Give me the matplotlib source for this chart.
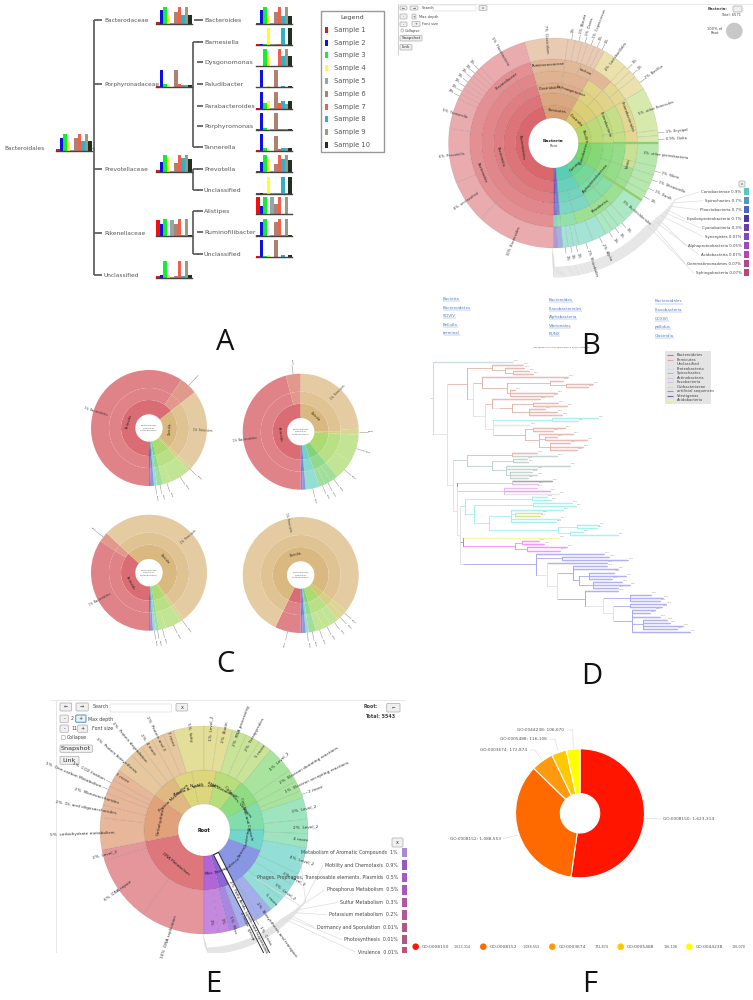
#!/usr/bin/python3
"""Six panel figure: taxonomy bars, krona charts, phylogenetic tree, GO donut."""

import numpy as np
import matplotlib
matplotlib.use("Agg")
import matplotlib.pyplot as plt
from matplotlib.colors import to_rgb
from matplotlib.patches import Rectangle, FancyBboxPatch, Circle

W, H = 753, 1000

#
# Data, panel A
#
samples = ["Sample %d" % i for i in range(1, 11)]
bact_root = [.1, .75, 1, .6, .05, .75, 1, .6, 1, .6]
fam_names = ["Bacterodaceae", "Porphyronadaceae", "Prevotellaceae", "Rikenellaceae", "Unclassified"]
fam_bars = [[.08, .8, 1, .5, .05, .7, 1, .5, 1, .5],
            [.03, 1, .15, .1, .02, 1, .15, .1, .1, .1],
            [.1, .6, 1, .8, .05, .5, 1, .8, 1, .75],
            [.9, .65, 1, .05, .9, .65, 1, .05, 1, .05],
            [.1, .15, 1, .15, .05, .1, 1, .1, 1, .15]]
gen_names = ["Bacteroides", "Barnesiella", "Dysgonomonas", "Paludibacter", "Parabacteroides",
             "Porphyromonas", "Tannerella", "Prevotella", "Unclassified", "Alistipes",
             "Ruminofilibacter", "Unclassified"]
gen_bars = [[.08, .8, 1, .5, .05, .7, 1, .5, 1, .5],
            [.02, .02, .02, 1, .02, .02, .02, 1, .02, 1],
            [.02, .02, 1, .6, .02, .02, 1, .6, 1, .6],
            [.03, 1, .03, .1, .02, 1, .02, .1, .02, .1],
            [.03, 1, .35, .45, .02, 1, .35, .45, .3, .45],
            [.03, 1, .1, .05, .02, 1, .03, .05, .03, .05],
            [.08, 1, .2, .1, .02, .9, .1, .15, .15, .15],
            [.1, .6, 1, .8, .05, .5, 1, .8, 1, .75],
            [.02, .02, .02, 1, .02, .02, .02, 1, .02, 1],
            [1, .5, 1, .02, 1, .6, 1, .02, 1, .02],
            [.03, .8, 1, .05, .03, .8, 1, .05, 1, .05],
            [.03, 1, .05, .1, .02, 1, .02, .1, .02, .1]]
sample_colors = ["#f01010", "#1010e0", "#10f030", "#ffff20", "#8fa8a8",
                 "#b08070", "#f0604a", "#30b0c8", "#a09880", "#203020"]

#
# Data, krona panels (angles clockwise, starting at six o'clock)
#
b_levels = [[164, 45, 30, 31, 33, 27, 25, 3, 2],
            [150, 14, 45, 30, 31, 33, 27, 25, 3, 2],
            [150, 14, 24, 21, 14, 16, 22, 9, 18, 15, 15, 12, 14, 11, 3, 2],
            [138, 12, 14, 24, 21, 14, 16, 22, 9, 18, 15, 15, 12, 14, 11, 3, 2],
            [136, 14, 14, 24, 11, 10, 14, 8, 8, 22, 9, 13, 5, 10, 5, 14, 13, 14, 11, 3, 2],
            [44, 24, 30, 17, 3, 3, 3, 3, 3, 3, 3, 28, 24, 4, 4, 3, 4, 3, 3, 14, 4, 4, 8,
             24, 3, 4, 13, 5, 5, 5, 5, 14, 5, 4, 4, 8, 8, 3, 3, 3, 3, 2]]
b_keys = ["rnylgmtbp", "rrnylgmtbp", "rrnnyyllggmmttbp", "rrrnnyyllggmmttbp",
          "rrrnnnnyyyyllgggggmmttbp",
          "r" * 12 + "n" * 7 + "y" * 4 + "l" * 3 + "g" * 5 + "m" * 4 + "t" * 5 + "bp"]
b_outer_labels = ["10%  Bacteroides", "8%  unclassified", "6%  Prevotella", "5%  Tannerella",
                  "2%", "1%", "1%", "1%", "1%", "1%", "1%", "5%  Flavobacteria",
                  "7%  Clostridium", "1%", "1%  Blautia", "1%  Dorea", "1%  Coprococcus", "1%", "1%",
                  "4%  Lactobacillales", "1%", "1%", "2%  Bacillus", "5%  other Firmicutes", "1%  Erysipel",
                  "0.9%  Delta", "3%  other proteobacteria", "1%  Vibrio", "1%  Shewanella", "1%  Xanth", "1%",
                  "3%  Burkholderiales", "1%", "1%", "1%", "2%  Alpha", "2%  Rhizobiales", "1%", "1%", "1%", "", ""]
b_inner_labels = ["Bacteroidetes", "Firmicutes", "Clostridia", "Bacilli", "Proteobacteria", "Gamma", "", "", ""]
b_mid_labels = ["Bacteroidia", "", "Clostridiales", "Lachnospiraceae", "", "", "Enterobacteria", "", "", "",
                "Alphaproteobacteria", "", "", "", "", ""]
b_ring_labels = ["Bacteroides", "Prevotellaceae", "", "Ruminococcaceae", "", "Lachno", "", "", "",
                 "Enterobacteriales", "", "", "Vibrio", "", "", "", "Rhizobiales", "", "",
                 "", "", "", "", ""]
b_side = ["Coriobacteriae 0.9%", "Spirochaetes 0.7%", "Planctobacteria 0.7%", "Epsilonproteobacteria 0.7%",
          "Cyanobacteria 0.3%", "Synergistes 0.07%", "Alphaproteobacteria 0.05%", "Acidobacteria 0.07%",
          "Gemmatimonadetes 0.07%", "Sphingobacteria 0.07%"]
b_side_colors = ["#58c8c0", "#5098c8", "#4868c0", "#4838a8", "#6a3cb0",
                 "#8048c0", "#a048c0", "#b048b0", "#b04890", "#b84878"]
b_links = [["Bacteria", "Bacteroidetes", "SCIVIV", "Bellulla", "terminal"],
           ["Bacteroides", "Flavobacteriales", "Alphabacteria", "Vibrionales", "RUNX"],
           ["Bacteroidales", "Flavobacteria", "GCXIVI", "pallidus", "Clostridia"]]

c_tl_levels = [[232, 81, 4, 29, 6, 3, 3, 2],
               [214, 18, 81, 4, 29, 6, 3, 3, 2],
               [214, 18, 81, 4, 21, 8, 6, 3, 3, 2]]
c_tl_keys = ["rnolgtbp", "rsnolgtbp", "rsnollgtbp"]
c_tr_levels = [[180, 90, 3, 48, 20, 14, 3, 2],
               [165, 15, 90, 3, 48, 20, 14, 3, 2],
               [165, 15, 87, 6, 28, 20, 8, 6, 6, 14, 3, 2]]
c_tr_keys = ["rnolgtbp", "rsnolgtbp", "rsnollgggtbp"]
c_bl_levels = [[133, 190, 4, 23, 3, 3, 2, 2],
               [123, 10, 190, 4, 23, 3, 3, 2, 2],
               [123, 10, 190, 4, 16, 7, 3, 3, 2, 2]]
c_bl_keys = ["rnolgtbp", "rsnolgtbp", "rsnollgtbp"]
c_br_levels = [[26, 282, 12, 25, 7, 3, 3, 2],
               [26, 282, 12, 25, 7, 3, 3, 2],
               [26, 282, 6, 6, 9, 8, 8, 7, 3, 3, 2]]
c_br_keys = ["rnolgtbp", "rnolgtbp", "rnoolllgtbp"]
c_names = ["Bacteroidetes", "Firmicutes", "Proteobacteria"]

e_inner = [79, 46, 25, 18, 24, 26, 24, 28, 20, 20, 20, 15, 15]
e_inner_keys = "ronyylgmtbbpv"
e_inner_labels = ["DNA Metabolism", "Carbohydrates", "Protein Metabolism", "Amino A.. acids", "Nucleic...sides",
                  "RNA Metabolism", "Cofactors, Vitamins", "Cell Wall and Capsule", "Clustering", "Stress",
                  "Virulence", "Respir.", "Misc."]
e_outer = [36, 37, 6, 18, 7, 7, 4, 4, 6, 11, 7, 7, 7, 6, 17, 8, 8, 8, 8, 8, 15, 7, 6, 4,
           12, 8, 8, 15, 7, 10, 8, 8, 4, 8, 6, 6, 8]
e_outer_keys = "rrr" + "o" * 6 + "n" * 5 + "y" + "yyl" + "ll" + "g" * 4 + "m" * 3 + "t" * 4 + "b" * 3 + "pvv"
e_outer_labels = ["10%  DNA replication", "6%  DNA repair", "2%  Level_2", "5%  carbohydrate metabolism",
                  "2%  Di- and oligosaccharides", "2%  Monosaccharides", "1%  One-carbon Metabolism",
                  "1%  CO2 fixation", "7 more", "3%  Protein biosynthesis", "2%  Protein degradation",
                  "2%  4 more", "2%  Protein and 3", "7 more", "5%  fatty", "1%  Level_2", "2%  Biotin",
                  "2%  RNA processing", "2%  Tetrapyrroles", "5 more", "4%  Level_2",
                  "2%  Electron donating reactions", "1%  Electron accepting reactions", "2 more",
                  "3%  Level_2", "2%  Level_2", "4 more", "4%  Level_2", "2%  Level_2", "3%  Level_2", "5 more",
                  "2%  Biosynthesis and transport", "1%  Cross", "4 more  group", "1%  Misc", "1%", "1%"]
e_side = ["Metabolism of Aromatic Compounds  1%", "Motility and Chemotaxis  0.9%",
          "Phages, Prophages, Transposable elements, Plasmids  0.5%", "Phosphorus Metabolism  0.5%",
          "Sulfur Metabolism  0.3%", "Potassium metabolism  0.2%", "Dormancy and Sporulation  0.01%",
          "Photosynthesis  0.01%", "Virulence  0.01%"]
e_side_colors = ["#a888d8", "#9858c0", "#a858c0", "#a858b8", "#b058a8",
                 "#b05898", "#b05888", "#b05880", "#b85878"]

#
# Data, panel D tree: (branch end, colour, children), leaves have no children
#
RD, CY, GG, DK, LI, YE, MA, BL, LG = ("#e3b4ac", "#9ff0f0", "#bfd0ca", "#999999", "#e0bcec",
                                      "#f7f79c", "#f48cf4", "#a8a8f4", "#e2e2e2")


def N(x, c, *kids):
    return (x, c, kids)


def L(c, *xs):
    return [N(x, c) for x in xs]


red_a = N(125, RD, N(185, RD, *L(RD, 280), N(225, RD, *L(RD, 282), N(250, RD, *L(RD, 298, 310)))))
red_b = N(157, RD, *L(RD, 415), N(232, RD, N(360, RD, *L(RD, 400), N(407, RD, *L(RD, 490, 475))),
                                  N(240, RD, *L(RD, 255, 380, 370))))
red_c = N(185, RD, *L(RD, 330), N(207, LG, N(245, RD, N(310, RD, *L(RD, 385, 410)),
                                             N(297, RD, *L(RD, 345, 380, 395)))))
cyan_a = N(188, CY, N(365, CY, *L(CY, 505, 445)), *L(LG, 300))
red_d = N(285, RD, N(310, RD, *L(RD, 405, 370)), N(327, RD, *L(RD, 430), N(345, RD, *L(RD, 380, 470)),
                                                   N(360, RD, *L(RD, 420, 460, 440))))
top_red = N(110, RD, red_a, N(130, LG, red_b, N(165, LG, red_c, N(188, LG, cyan_a, red_d))))
green_grey = N(68, GG, N(112, GG, N(247, RD, *L(RD, 320), *L(GG, 380)),
                         N(185, GG, N(250, GG, *L(GG, 290, 295)),
                           N(228, GG, *L(GG, 420, 320), N(240, GG, *L(GG, 305, 320, 295))))))
dark_lilac = N(82, DK, N(245, LI, *L(DK, 365), *L(LI, 325)), N(222, LI, *L(LI, 320), *L(MA, 360), *L(LG, 388)))
cyan_big = N(95, CY, N(105, CY, N(305, CY, *L(CY, 350, 362)),
                       N(133, CY, N(310, CY, *L(CY, 425, 438)),
                         N(178, CY, N(243, CY, *L(CY, 400), N(255, CY, *L("#d8e080", 335, 330)), *L(CY, 390, 378)),
                           N(385, CY, N(440, CY, *L(CY, 508, 500)), N(420, CY, *L(CY, 458, 565)))))))
mid_dark = N(98, DK, *L(YE, 388), N(255, MA, N(275, MA, *L(MA, 328, 343)), N(290, MA, *L(MA, 412, 390))))
blue = N(100, LG, N(318, BL, *L(BL, 522), N(395, BL, *L(BL, 538, 595)),
                    N(352, LG, *L(BL, 530), N(382, LG, N(430, BL, *L(BL, 530, 565),
                                                         N(447, BL, N(478, BL, *L(BL, 552, 588, 545)),
                                                           N(490, BL, *L(BL, 575, 600, 565)))),
                                              N(465, BL, *L(BL, 565),
                                                N(520, LG, N(600, BL, *L(BL, 662, 698, 690)),
                                                  N(550, LG, N(600, BL, *L(BL, 708, 695)),
                                                    N(605, BL, *L(BL, 675, 660, 690),
                                                      N(640, BL, *L(BL, 710, 720, 758, 740)), *L(BL, 780)))))))))
tree = N(10, "#c8dce0", *L("#c8dce0", 248), N(50, LG, top_red,
                                              N(68, LG, green_grey,
                                                N(82, LG, dark_lilac, N(90, LG, cyan_big, mid_dark, blue)))))
tree_legend = ["Bacteroidetes", "Firmicutes", "Unclassified", "Proteobacteria", "Spirochaetes", "Actinobacteria",
               "Fusobacteria", "Gutbacteriaeae", "artificial sequences", "Verstigonas", "Acidobacteria"]
tree_legend_colors = ["#8080f0", "#dfa8a0", LG, CY, MA, GG, LI, "#d8e080", DK, "#6868a8", YE]

#
# Data, panel F
#
go_terms = ["GO:0008150", "GO:0008152", "GO:0003674", "GO:0005488", "GO:0044238"]
go_counts = [1623314, 1088553, 172874, 116108, 106070]
go_colors = ["#ff1500", "#ff6a00", "#ff9a10", "#ffc800", "#ffff00"]

#
# Krona colours
#
PAL = {"r": "#d8646a", "s": "#d8806e", "n": "#d8b478", "o": "#ccc468", "y": "#d8cc70", "l": "#a8d868",
       "g": "#78d070", "m": "#70d898", "t": "#68d0c0", "b": "#5070c8", "p": "#7040b8", "v": "#a850c8"}
bkey = dict(PAL, n="#d69e72", y="#d8c868", l="#b4d668", g="#78d468", m="#66d48e", t="#58ccb2")
ekey = dict(PAL, n="#dcae70", o="#dd9468", y="#d8d068", l="#b0d868", g="#80d870", m="#70d8a0", t="#60d0c4",
            b="#7888e0", v="#a850d0", p="#7c50d0")


def shade(c, f):
    rgb = np.array(to_rgb(c))
    return tuple(rgb + (1 - rgb) * f)


fig = plt.figure(figsize=(W / 100, H / 100), dpi=100)
canvas = fig.add_axes([0, 0, 1, 1])
canvas.set_xlim(0, W)
canvas.set_ylim(0, H)
canvas.axis("off")


def Y(y):
    return H - y


def rect(x0, y0, x1, y1):
    return [x0 / W, 1 - y1 / H, (x1 - x0) / W, (y1 - y0) / H]


def txt(x, y, s, fs=4, c="#444444", **kw):
    kw.setdefault("va", "center")
    return canvas.text(x, Y(y), s, fontsize=fs, color=c, **kw)


def line(xs, ys, c="#555555", lw=1.0, **kw):
    canvas.plot(xs, [Y(v) for v in ys], color=c, lw=lw, solid_capstyle="butt", **kw)


def btn(x0, y0, x1, y1, s="", fs=3, ec="#aaaaaa", fc="#f0f0f0", lw=.5):
    canvas.add_patch(FancyBboxPatch((x0, Y(y1)), x1 - x0, y1 - y0, boxstyle="round,pad=0,rounding_size=1",
                                    ec=ec, fc=fc, lw=lw))
    if s:
        txt((x0 + x1) / 2, (y0 + y1) / 2, s, fs, "#333333", ha="center")


def sunburst(cx, cy, radii, levels, keys, fade, pal=PAL, edge=(0, 0, 0, .09), flat=""):
    for i, (vals, k) in enumerate(zip(levels, keys)):
        # keys in flat keep one tone outside the first ring
        cols = [shade(pal[c], min(fade[i], fade[1]) if c in flat else fade[i]) for c in k]
        wedges, _ = canvas.pie(vals, center=(cx, Y(cy)), radius=radii[i + 1], colors=cols, startangle=270,
                               counterclock=False, frame=True,
                               wedgeprops=dict(width=radii[i + 1] - radii[i], linewidth=.5))
        for w in wedges:
            w.set_edgecolor(edge)


def mids(vals):
    v = np.array(vals, float)
    edges = np.cumsum(v) / v.sum() * 360
    return (180 + edges - v / v.sum() * 180) % 360


def radial(cx, cy, r, th, s, fs=3, c="#333333"):
    a = np.radians(th)
    x, y = cx + r * np.sin(a), cy - r * np.cos(a)
    if th <= 180:
        rot, ha = 90 - th, "left"
    else:
        rot, ha = 270 - th, "right"
    txt(x, y, s, fs, c, rotation=rot, rotation_mode="anchor", ha=ha)


def tangent(cx, cy, r, th, s, fs=3, c="#222222"):
    a = np.radians(th)
    x, y = cx + r * np.sin(a), cy - r * np.cos(a)
    rot = -th if (th < 90 or th > 270) else 180 - th
    txt(x, y, s, fs, c, rotation=rot, rotation_mode="anchor", ha="center")


def outer_labels(cx, cy, R, vals, labels, fs, big=9):
    for th, v, s in zip(mids(vals), vals, labels):
        if not s:
            continue
        a = np.radians(th)
        if v >= big:
            radial(cx, cy, R * .86, th, s, fs)
        else:
            line([cx + R * np.sin(a), cx + R * 1.06 * np.sin(a)],
                 [cy - R * np.cos(a), cy - R * 1.06 * np.cos(a)], "#777777", .3)
            radial(cx, cy, R * 1.07, th, s, fs)


def side_list(cx, cy, R, names, colors, ys, x_text, x_sw, sw_w, sw_h, fs, r0, r1, th0, th1):
    # grey leaders swept round the chart, then straight out to the names
    for i, (s, col, y) in enumerate(zip(names, colors, ys)):
        t = canvas.text(x_text, Y(y), s, fontsize=fs, color="#444444", ha="right", va="center")
        canvas.add_patch(Rectangle((x_sw, Y(y) - sw_h / 2), sw_w, sw_h, fc=col, ec="none"))
        f = i / (len(names) - 1)
        ths = np.radians(np.linspace(th0 + (th1 - th0) * f * .25, th1, 30))
        rr = r0 + (r1 - r0) * (1 - f * .6)
        px, py = cx + rr * np.sin(ths), cy - rr * np.cos(ths)
        w = t.get_window_extent(fig.canvas.get_renderer()).x0
        line([w - 2, px[0]], [y, py[0]], "#dddddd", .5)
        line(px, py, "#e4e4e4", .8)
        line([px[-1], cx + (i - 4) * .3], [py[-1], cy + R * (1.0 + .02 * i)], "#dddddd", .4)


#
# Panel A
#
def bars(x0, base, vals):
    ax = fig.add_axes(rect(x0, base - 17, x0 + 36, base))
    ax.bar(range(10), vals, width=.95, color=sample_colors)
    ax.set_xlim(-.5, 9.5)
    ax.set_ylim(0, 1)
    ax.axis("off")
    ax.axhline(0, color="#444444", lw=1.0, clip_on=False)


bars(56, 150.7, bact_root)
fam_base = [23.7, 87, 172, 235.5, 278]
fam_y = [20, 84, 169, 233, 275]
for b, v in zip(fam_base, fam_bars):
    bars(156, b, v)
gen_base = [24, 44.7, 66, 87.3, 108.7, 129.7, 151, 172.3, 193.7, 214.3, 235.7, 257]
gen_y = [20, 41.5, 62, 84, 105.5, 126, 147, 169, 190, 211, 232, 254]
for b, v in zip(gen_base, gen_bars):
    bars(256, b, v)

txt(4, 148, "Bacteroidales", 4.2, "#555555")
line([92, 94.3], [148, 148])
line([94.3, 94.3], [20, 275], lw=1.2)
for y, s in zip(fam_y, fam_names):
    line([94.3, 102], [y, y], lw=1.2)
    txt(104, y + .5, s, 4.2, "#555555")
for y, s in zip(gen_y, gen_names):
    line([197 if s != "Bacteroides" else 194, 203], [y, y], lw=1.2)
    txt(204, y + .5, s, 4.5, "#555555")
for top, bot in [(41.5, 147), (169, 190), (211, 254)]:
    line([193.5, 193.5], [top, bot], lw=1.2)
    line([193.5, 198], [top, top], lw=1.2)
    line([193.5, 198], [bot, bot], lw=1.2)
canvas.add_patch(Rectangle((321, Y(152)), 63, 141, fc="white", ec="#999999", lw=1))
txt(352, 18, "Legend", 4.6, "#444444", ha="center")
for i, (s, c) in enumerate(zip(samples, sample_colors)):
    y = 29.7 + 12.8 * i
    canvas.add_patch(Rectangle((325, Y(y) - 3), 3.5, 6, fc=c, ec="none"))
    txt(334, y, s, 4.9, "#555555")

#
# Panel B
#
B = (553.5, 143)
b_radii = [25, 38, 50, 60, 72, 84, 105]
sunburst(B[0], B[1], b_radii, b_levels, b_keys, [.02, .1, .16, .22, .28, .46], pal=bkey)
for idx in (3, 4):
    th = np.radians(180 + np.cumsum(b_levels[0])[idx])
    line([B[0] + 60 * np.sin(th), B[0] + 105 * np.sin(th)], [B[1] - 60 * np.cos(th), B[1] - 105 * np.cos(th)],
         "#90cc70", 1.6)
outer_labels(B[0], B[1], 105, b_levels[5], b_outer_labels, 2.5)
for th, s in zip(mids(b_levels[0]), b_inner_labels):
    if s:
        tangent(B[0], B[1], 32, th, s, 2.6)
for th, s in zip(mids(b_levels[2]), b_mid_labels):
    if s:
        tangent(B[0], B[1], 55, th, s, 2.6)
for th, s in zip(mids(b_levels[4]), b_ring_labels):
    if s:
        tangent(B[0], B[1], 78, th, s, 2.6)
txt(B[0], B[1] - 2, "Bacteria", 3.2, "#222222", ha="center", weight="bold")
txt(B[0], B[1] + 3, "Root", 2.6, "#555555", ha="center")
side_list(B[0], B[1], 105, b_side, b_side_colors, np.arange(10) * 9 + 191.7, 741.5, 744, 5.5, 7, 2.8, 118, 134,
          115, 180)
btn(739, 181, 745, 187, "x", 2.5)
line([398, 753], [3.5, 3.5], "#dddddd", .5)
line([398, 398], [3.5, 55], "#bbbbbb", .5)
btn(400, 6, 407, 10, "←", 2.5)
btn(410, 6, 418, 10, "→", 2.5)
txt(422, 8, "Search", 2.6)
btn(433, 5, 476, 11, fc="white", ec="#dddddd")
btn(479, 5.5, 487, 10.5, "x", 2.5)
btn(400, 14, 407, 19, "-", 2.5)
btn(412, 14, 416, 19, "+", 2.5)
txt(419, 16.7, "Max depth", 2.6)
btn(400, 22, 407, 26.5, "-", 2.5)
btn(412, 21.5, 420, 26.5, "+", 2.5)
txt(422, 24, "Font size", 2.6)
btn(401, 29, 403.5, 32, fc="white")
txt(405, 30.7, "Collapse", 2.6)
btn(400, 35.5, 422, 41, "Snapshot", 3)
btn(400, 44.5, 412, 50, "Link", 3)
txt(718, 9.3, "Bacteria:", 2.8, weight="bold", ha="center")
btn(733, 6, 742, 12, "", 2.5)
txt(741.5, 15.5, "Total: 6571", 2.6, ha="right")
txt(715, 28.5, "100% of", 2.6, ha="center")
txt(715, 33.5, "Root", 2.6, ha="center")
canvas.add_patch(Circle((734.3, Y(31)), 8.3, fc="#c8c8c8", ec="none"))
fig.canvas.draw()
for x, ytop, names in zip([443, 549, 655], [299, 300, 301.5], b_links):
    for i, s in enumerate(names):
        t = txt(x, ytop + i * 8.55, s, 2.9, "#5078c0")
        e = t.get_window_extent(fig.canvas.get_renderer())
        line([e.x0, e.x1], [ytop + i * 8.55 + 2, ytop + i * 8.55 + 2], "#7898d0", .3)

#
# Panel C
#
fade_c = [.06, .2, .3]
radii_c = [13.7, 28, 40, 58]
c_charts = [(149, 428, c_tl_levels, c_tl_keys), (300.7, 431.7, c_tr_levels, c_tr_keys),
            (149, 572.7, c_bl_levels, c_bl_keys), (300.7, 575, c_br_levels, c_br_keys)]
for cx, cy, lv, ks in c_charts:
    sunburst(cx, cy, radii_c, lv, ks, fade_c, edge=(0, 0, 0, 0), flat="rs")
    for k, s in enumerate(c_names):
        txt(cx, cy - 2.5 + k * 2.5, s, 1.7, "#666666", ha="center")
    ths = mids(lv[2])
    vals = np.array(lv[2], float)
    for th, v, key in zip(ths, vals, ks[2]):
        a = np.radians(th)
        if key in "rn" and v > 50:
            radial(cx, cy, 44, th, "1%  " + ("Bacteroidetes" if key == "r" else "Firmicutes"), 1.9)
            tangent(cx, cy, 21, th, "Bacteroidia" if key == "r" else "Clostridia", 1.9)
        elif key != "b" and key != "p":
            line([cx + 58 * np.sin(a), cx + 67 * np.sin(a)], [cy - 58 * np.cos(a), cy - 67 * np.cos(a)], "#999999", .4)
            radial(cx, cy, 67.5, th, "0.5%", 1.7)

#
# Panel D
#
tree_ax = fig.add_axes(rect(430, 340, W, 660))
tree_ax.set_xlim(0, 969)
tree_ax.axis("off")
row = [0]


def draw_tree(node, parent_x):
    x, c, kids = node
    if not kids:
        y = row[0]
        row[0] += 1
        tree_ax.text(x + 3, y - .5, "0.00", fontsize=1.6, color="#888888", va="center")
        # clade tips look like a pale band in the reference
        tree_ax.plot([parent_x, x], [y, y], color=c, lw=1.8, alpha=.3, solid_capstyle="butt")
    else:
        ys = [draw_tree(k, x) for k in kids]
        y = (ys[0] + ys[-1]) / 2
        tree_ax.plot([x, x], [ys[0], ys[-1]], color=c, lw=.7)
    tree_ax.plot([parent_x, x], [y, y], color=c, lw=.6)
    return y


draw_tree(tree, 0)
step = (877 - 65) / (row[0] - 1)
tree_ax.set_ylim((960 - 65) / step, -65 / step)
canvas.add_patch(Rectangle((665, Y(404)), 45.7, 53.3, fc="#e4e4e4", ec="none", zorder=3))
for i, (s, c) in enumerate(zip(tree_legend, tree_legend_colors)):
    y = 355.3 + i * 4.5
    line([667, 673.5], [y, y], c, .8, zorder=4)
    txt(677, y, s, 2.7, "#444444", zorder=4)
txt(561.5, 347, "Hexapoda are in the same branch as the outgroup", 1.6, "#555555", ha="center")

#
# Panel E
#
E = (204, 830)
e_fade = [.12, .32]
ekeys = [e_inner_keys, e_outer_keys]
sunburst(E[0], E[1], [26, 60, 104], [e_inner, e_outer], ekeys, e_fade, pal=ekey)
outer_labels(E[0], E[1], 104, e_outer, e_outer_labels, 3.1, big=6)
for th, s in zip(mids(e_inner), e_inner_labels):
    tangent(E[0], E[1], 44, th, s, 3)
txt(E[0], E[1], "Root", 3.4, "#111111", ha="center", weight="bold")
side_list(E[0], E[1], 104, e_side, e_side_colors, np.arange(9) * 12.43 + 852.7, 398, 401.7, 5, 9.5, 3.4, 114, 124,
          125, 178)
btn(392, 838, 403, 847, "x", 3.5)
a = np.radians(153)
line([E[0] + 26 * np.sin(a), E[0] + 150 * np.sin(a)], [E[1] - 26 * np.cos(a), E[1] - 150 * np.cos(a)], "#222222", 4.5)
line([E[0] + 27 * np.sin(a), E[0] + 150 * np.sin(a)], [E[1] - 27 * np.cos(a), E[1] - 150 * np.cos(a)], "#ffffff", 3.2)
radial(E[0], E[1], 57, 153, "2%  Fatty Acids, Lipids, and Isoprenoids", 3, "#222222")
canvas.add_patch(Rectangle((40, Y(966)), 375, 13, fc="white", ec="none", zorder=2.5))
line([50, 405], [700, 700], "#dddddd", .5)
line([56, 56], [700, 953], "#dddddd", .5)
btn(60, 703, 71.7, 711, "←", 3.5)
btn(76, 703, 88.3, 711, "→", 3.5)
txt(92.3, 707, "Search", 3.4)
btn(110, 704, 171.7, 712, fc="white", ec="#dddddd")
btn(176, 703.5, 187.7, 711, "x", 3.5)
btn(60, 715, 68.3, 722.3, "-", 3.5)
txt(71, 719, "2", 3.4)
btn(75.7, 715, 86, 722.3, "+", 3.5, ec="#60a0c0", lw=.8)
txt(88.3, 719, "Max depth", 3.4)
btn(60, 725, 68.3, 732.3, "-", 3.5)
txt(71, 729, "11", 3.4)
btn(77.7, 725, 87.7, 732.3, "+", 3.5)
txt(91.7, 729, "Font size", 3.4)
btn(61.3, 735.5, 65.3, 739.5, fc="white")
txt(67, 738, "Collapse", 3.4)
btn(60, 745, 92.3, 752.3, "Snapshot", 4.6)
btn(60, 756.3, 79, 764.3, "Link", 4.6)
txt(378, 707, "Root:", 3.4, ha="right", weight="bold")
btn(386.7, 703.5, 400, 712, "←", 3)
txt(395, 716.3, "Total: 5543", 3.4, ha="right", weight="bold")

#
# Panel F
#
F = (580, 813.3)
canvas.pie(go_counts, center=(F[0], Y(F[1])), radius=64.5, colors=go_colors, startangle=90, counterclock=False,
           frame=True, wedgeprops=dict(width=64.5 - 19.7, edgecolor="white", linewidth=.8))
go_text_x = [663.3, 500.7, 480, 500, 517.3]
go_text_y = [819, 838.7, 750, 739.3, 730]
go_ha = ["left", "right", "left", "left", "left"]
go_lead_x = [[645, 661], [517.5, 503], [541.7, 535, 530], [558, 555, 550], [573.3, 572.7, 566.7]]
go_lead_y = [[818.3, 819], [835, 838.7], [760, 750, 750], [751, 739.3, 739.3], [748.3, 730, 730]]
for i, (t, n) in enumerate(zip(go_terms, go_counts)):
    txt(go_text_x[i], go_text_y[i], "%s: %s" % (t, format(n, ",")), 3.1, "#555555", ha=go_ha[i])
    line(go_lead_x[i], go_lead_y[i], "#dddddd", .5)

dots_x = [415.7, 483.3, 552.3, 620.7, 689.3]
num_x = [454, 522.7, 595, 664, 732]
dot_colors = ["#ff1500", "#ff6a00", "#ff9a10", "#ffc800", "#ffff00"]
for dx, nx, t, n, c in zip(dots_x, num_x, go_terms, go_counts, dot_colors):
    canvas.add_patch(Circle((dx, Y(946.7)), 3.3, fc=c, ec="none", zorder=3))
    txt(dx + 6.5, 946.7, t, 3.2, "#555555", zorder=3)
    txt(nx, 946.7, format(n, ","), 2.4, "#555555", zorder=3)

#
# Panel letters
#
for s, x, y in [("A", 225, 342), ("B", 591, 347), ("C", 225, 665), ("D", 592, 677), ("E", 213, 984), ("F", 590, 984)]:
    txt(x, y, s, 21, "#111111", ha="center", family="Open Sans", zorder=5)

canvas.set_xlim(0, W)
canvas.set_ylim(0, H)
fig.savefig("out.png", dpi=100)
